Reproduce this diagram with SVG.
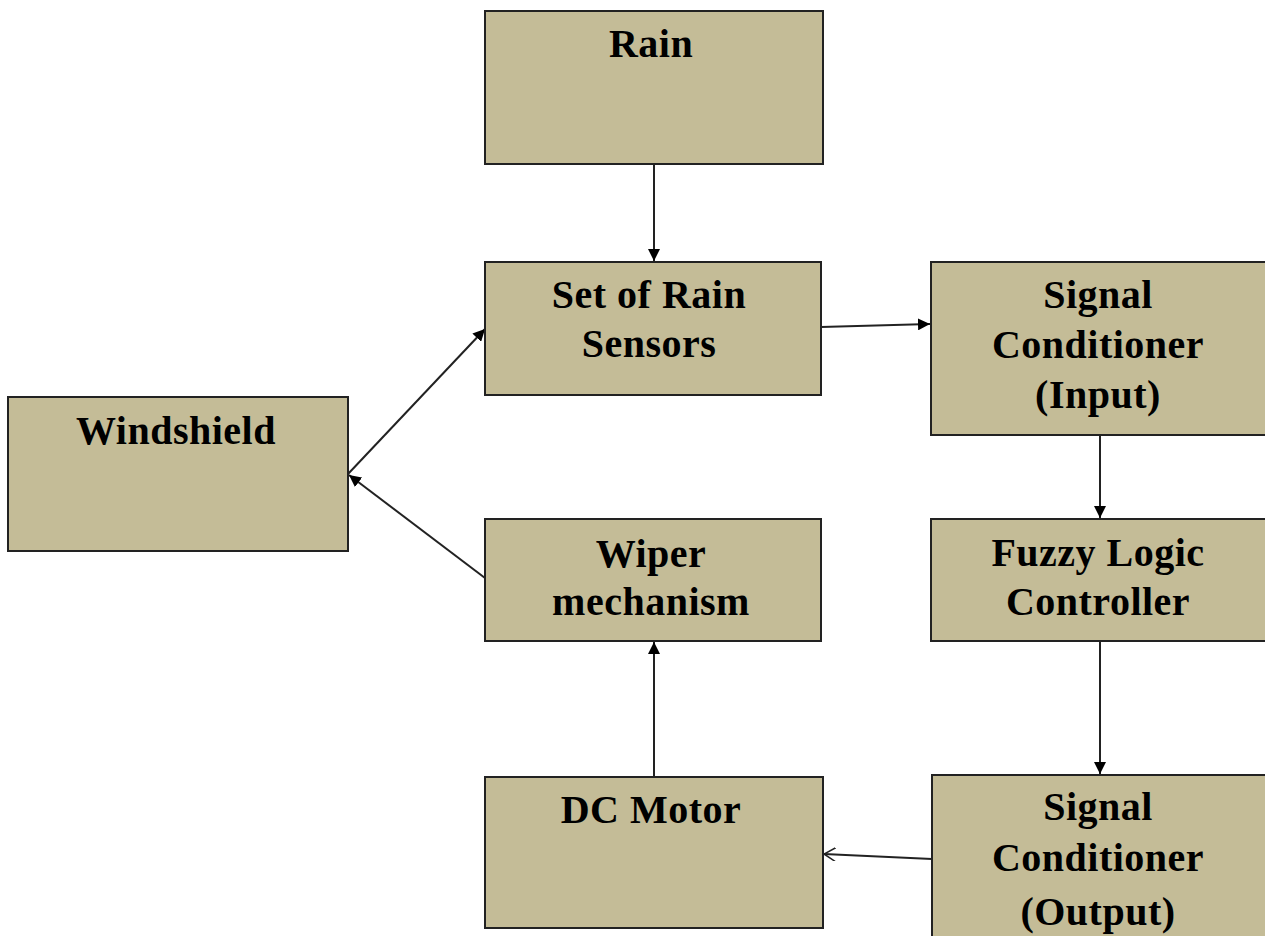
<svg xmlns="http://www.w3.org/2000/svg" width="1265" height="936" viewBox="0 0 1265 936">
<defs>
<style>
.box{fill:#c4bc97;stroke:#222;stroke-width:2}
.t{font-family:"Liberation Serif","Times New Roman",serif;font-weight:bold;font-size:40px;fill:#000;text-anchor:middle;letter-spacing:0.5px}
.c{stroke:#222;stroke-width:2;fill:none}
</style>
<marker id="ah" viewBox="0 0 10 10" refX="10" refY="5" markerWidth="6" markerHeight="6" orient="auto" markerUnits="strokeWidth">
<path d="M0,0 L10,5 L0,10 z" fill="#000"/>
</marker>
<marker id="oh" viewBox="0 0 10 12" refX="10" refY="6" markerWidth="6" markerHeight="7" orient="auto" markerUnits="strokeWidth">
<path d="M0,0 L10,6 L0,12" fill="none" stroke="#222" stroke-width="1.3"/>
</marker>
</defs>
<rect width="1265" height="936" fill="#fff"/>
<g id="connectors">
<line class="c" x1="654" y1="164" x2="654" y2="261" marker-end="url(#ah)"/>
<line class="c" x1="821" y1="327" x2="930" y2="324" marker-end="url(#ah)"/>
<line class="c" x1="348" y1="474" x2="485" y2="329" marker-end="url(#ah)"/>
<line class="c" x1="485" y1="578" x2="349" y2="475" marker-end="url(#ah)"/>
<line class="c" x1="1100" y1="435" x2="1100" y2="518" marker-end="url(#ah)"/>
<line class="c" x1="1100" y1="641" x2="1100" y2="774" marker-end="url(#ah)"/>
<line class="c" x1="932" y1="859" x2="824" y2="854" marker-end="url(#oh)"/>
<line class="c" x1="654" y1="777" x2="654" y2="642" marker-end="url(#ah)"/>
</g>
<g id="rain">
<rect class="box" x="485" y="11" width="338" height="153"/>
<text class="t" x="651" y="57">Rain</text>
</g>
<g id="sensors">
<rect class="box" x="485" y="262" width="336" height="133"/>
<text class="t" x="649" y="308">Set of Rain</text>
<text class="t" x="649" y="357">Sensors</text>
</g>
<g id="sc-input">
<rect class="box" x="931" y="262" width="340" height="173"/>
<text class="t" x="1098" y="308">Signal</text>
<text class="t" x="1098" y="358">Conditioner</text>
<text class="t" x="1098" y="408">(Input)</text>
</g>
<g id="windshield">
<rect class="box" x="8" y="397" width="340" height="154"/>
<text class="t" x="176" y="444">Windshield</text>
</g>
<g id="wiper">
<rect class="box" x="485" y="519" width="336" height="122"/>
<text class="t" x="651" y="567">Wiper</text>
<text class="t" x="651" y="615">mechanism</text>
</g>
<g id="flc">
<rect class="box" x="931" y="519" width="340" height="122"/>
<text class="t" x="1098" y="566">Fuzzy Logic</text>
<text class="t" x="1098" y="615">Controller</text>
</g>
<g id="dc-motor">
<rect class="box" x="485" y="777" width="338" height="151"/>
<text class="t" x="651" y="823">DC Motor</text>
</g>
<g id="sc-output">
<rect class="box" x="932" y="775" width="340" height="170"/>
<text class="t" x="1098" y="820">Signal</text>
<text class="t" x="1098" y="871">Conditioner</text>
<text class="t" x="1098" y="925">(Output)</text>
</g>
</svg>
